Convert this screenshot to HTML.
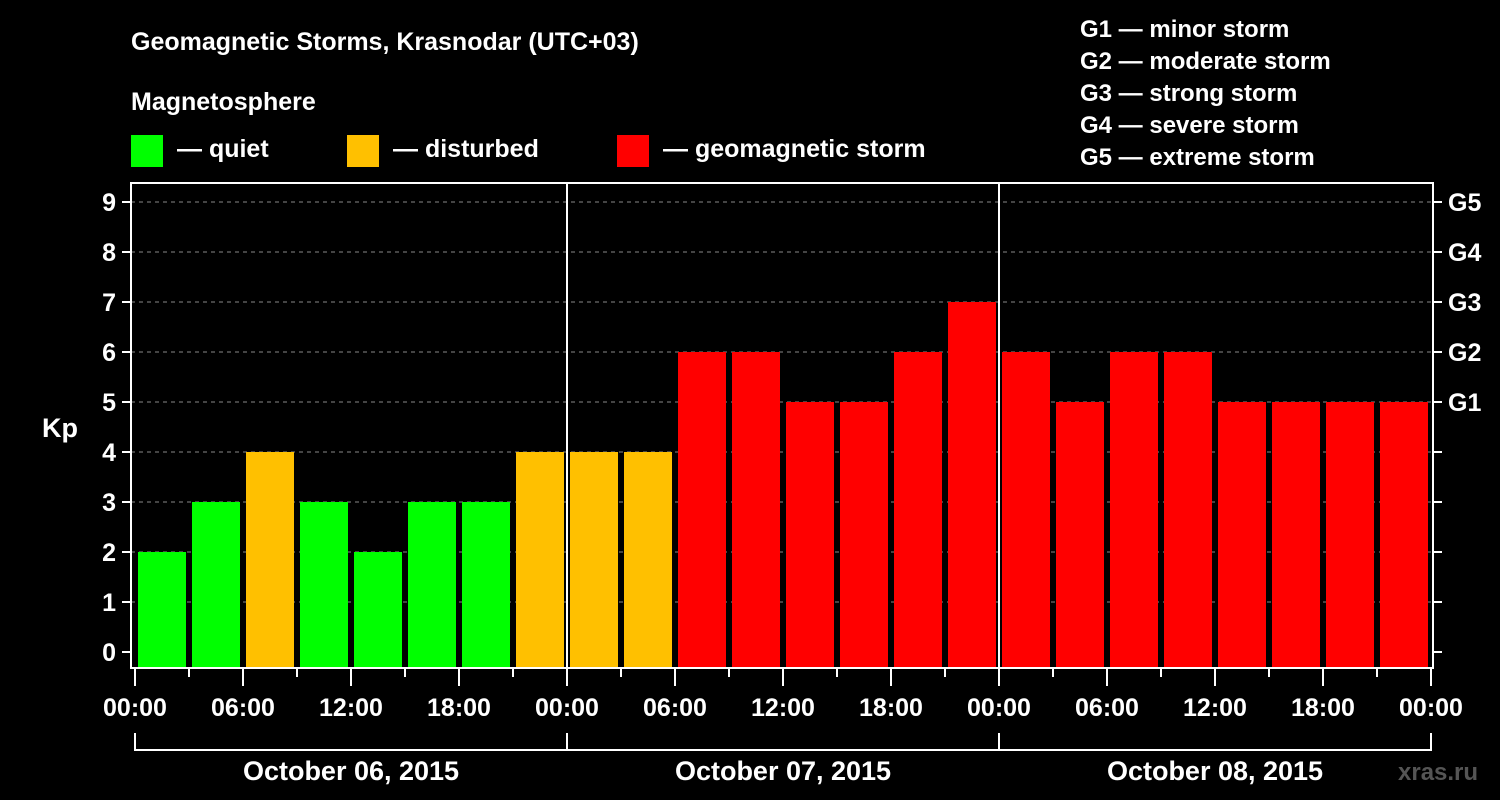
<!DOCTYPE html>
<html><head><meta charset="utf-8"><style>
html,body{margin:0;padding:0;background:#000;width:1500px;height:800px;overflow:hidden}
svg{display:block;font-family:"Liberation Sans",Arial,sans-serif;font-weight:bold}
</style></head><body>
<svg id="c" width="1500" height="800">
<rect width="1500" height="800" fill="#000"/>
<text x="131" y="50" fill="#fff" font-size="25">Geomagnetic Storms, Krasnodar (UTC+03)</text>
<text x="131" y="110" fill="#fff" font-size="25">Magnetosphere</text>
<g><rect x="131" y="135" width="32" height="32" fill="#00ff00"/><text x="177" y="157" fill="#fff" font-size="25">— quiet</text></g>
<g><rect x="347" y="135" width="32" height="32" fill="#ffc000"/><text x="393" y="157" fill="#fff" font-size="25">— disturbed</text></g>
<g><rect x="617" y="135" width="32" height="32" fill="#ff0000"/><text x="663" y="157" fill="#fff" font-size="25">— geomagnetic storm</text></g>
<g fill="#fff" font-size="24">
<text x="1080" y="37">G1 — minor storm</text>
<text x="1080" y="69">G2 — moderate storm</text>
<text x="1080" y="101">G3 — strong storm</text>
<text x="1080" y="133">G4 — severe storm</text>
<text x="1080" y="165">G5 — extreme storm</text>
</g>
<text x="42" y="437" fill="#fff" font-size="27">Kp</text>
<text x="1398" y="780" fill="#555" font-size="24">xras.ru</text>
<g id="g"></g>
</svg>
<script>
const kpValues=[2,3,4,3,2,3,3,4, 4,4,6,6,5,5,6,7, 6,5,6,6,5,5,5,5];
const yTicks=[0,1,2,3,4,5,6,7,8,9];
const gLabels=["G1","G2","G3","G4","G5"];
const timeLabels=["00:00","06:00","12:00","18:00","00:00","06:00","12:00","18:00","00:00","06:00","12:00","18:00","00:00"];
const dayLabels=["October 06, 2015","October 07, 2015","October 08, 2015"];
const NS="http://www.w3.org/2000/svg",g=document.getElementById('g');
const X0=135,SLOT=54,L=131,R=1433,T=183,B=668;
const y=v=>652-v*50, x=i=>X0+i*SLOT;
function mk(t,a,txt){const e=document.createElementNS(NS,t);for(const k in a)e.setAttribute(k,a[k]);if(txt!=null)e.textContent=txt;g.appendChild(e);return e;}
function col(v){return v>=5?"#ff0000":v>=4?"#ffc000":"#00ff00";}
yTicks.forEach(v=>{if(v>0){const l=mk('line',{x1:L,x2:R,y1:y(v),y2:y(v),stroke:'#888','stroke-dasharray':'4,4','stroke-width':1});

}
mk('line',{x1:122,x2:L,y1:y(v),y2:y(v),stroke:'#fff','stroke-width':2});
mk('line',{x1:R,x2:1442,y1:y(v),y2:y(v),stroke:'#fff','stroke-width':2});
const t=mk('text',{x:116,y:y(v)+9,fill:'#fff','font-size':25,'text-anchor':'end'},v);

});
gLabels.forEach((s,i)=>{const t=mk('text',{x:1448,y:y(5+i)+9,fill:'#fff','font-size':25},s);

});
kpValues.forEach((v,i)=>{const r=mk('rect',{x:x(i)+3,y:y(v),width:48,height:B-y(v),fill:col(v)});

});
mk('rect',{x:L,y:T,width:R-L,height:B-T,fill:'none',stroke:'#fff','stroke-width':2});
[1,2].forEach(d=>mk('line',{x1:x(d*8),x2:x(d*8),y1:T,y2:B,stroke:'#fff','stroke-width':2}));
for(let i=0;i<=24;i++){mk('line',{x1:x(i),x2:x(i),y1:B,y2:i%2?677:686,stroke:'#fff','stroke-width':2});}
timeLabels.forEach((s,i)=>{const t=mk('text',{x:x(i*2),y:716,fill:'#fff','font-size':25,'text-anchor':'middle'},s);

});
mk('path',{d:`M${x(0)} 733V750H${x(24)}V733M${x(8)} 733V750M${x(16)} 733V750`,fill:'none',stroke:'#fff','stroke-width':2});
dayLabels.forEach((s,i)=>{const t=mk('text',{x:x(i*8+4),y:780,fill:'#fff','font-size':27,'text-anchor':'middle'},s);

});
</script>
</body></html>
